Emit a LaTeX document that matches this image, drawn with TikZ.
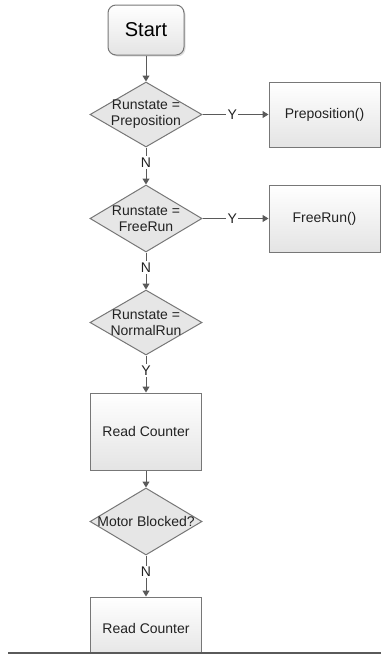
\documentclass[tikz,border=0pt]{standalone}
\usepackage{fontspec}
\setmainfont{Liberation Sans}
\usetikzlibrary{shapes.geometric,arrows.meta,shadows}
\definecolor{edgegray}{HTML}{5A5A5A}
\definecolor{bordergray}{HTML}{777777}
\definecolor{diafill}{HTML}{E6E6E6}
\definecolor{boxbot}{HTML}{E4E4E4}
\definecolor{txt}{HTML}{222222}
\tikzset{
  procbox/.style={rectangle, draw=bordergray, line width=1pt, top color=white, bottom color=boxbot,
    minimum width=111pt, inner sep=0pt, text=txt, font=\fontsize{14}{16}\selectfont},
  startbox/.style={rectangle, rounded corners=8pt, draw=bordergray, line width=1pt, top color=white, bottom color=boxbot,
    minimum width=76pt, minimum height=50pt, inner sep=0pt, text=black, font=\fontsize{20}{22}\selectfont,
    drop shadow={shadow xshift=1.5pt, shadow yshift=-1.5pt, opacity=0.25}},
  dia/.style={diamond, draw=bordergray, line width=1pt, fill=diafill, inner sep=0pt,
    minimum width=112pt},
  diatext/.style={align=center, text=txt, font=\fontsize{14}{16}\selectfont, inner sep=0pt},
  flow/.style={draw=edgegray, line width=1pt, -{Triangle[width=7pt,length=6pt]}},
  lbl/.style={fill=white, inner sep=1.5pt, text=txt, font=\fontsize{14}{16}\selectfont},
}
\begin{document}
\begin{tikzpicture}[x=1pt,y=-1pt]
\useasboundingbox (0,0) rectangle (381,656);
\node[startbox] (start) at (146,30) {Start};
\node[dia, minimum height=65pt] (d1) at (146,114.5) {};
\node[diatext] at (d1) {Runstate =\\Preposition};
\node[procbox, minimum height=65pt] (p1) at (324.5,114.5) {Preposition()};
\node[dia, minimum height=67pt] (d2) at (146,218.5) {};
\node[diatext] at (d2) {Runstate =\\FreeRun};
\node[procbox, minimum height=67pt] (p2) at (324.5,218.5) {FreeRun()};
\node[dia, minimum height=65pt] (d3) at (146,322.5) {};
\node[diatext] at (d3) {Runstate =\\NormalRun};
\node[procbox, minimum height=77pt] (rc1) at (146,431.5) {Read Counter};
\node[dia, minimum height=67pt] (d4) at (146,521.5) {};
\node[diatext] at (d4) {Motor Blocked?};
\node[procbox, minimum height=62pt] (rc2) at (146,628) {Read Counter};
\fill[white] (0,654) rectangle (381,656);
\coordinate (lineL) at (8,653);
\coordinate (lineR) at (381,653);
\draw[edgegray, line width=1.5pt] (lineL) -- (lineR);

\draw[flow] (start.south) -- (d1.north);
\draw[flow] (d1.east) -- node[lbl, pos=0.45] {Y} (p1.west);
\draw[flow] (d1.south) -- node[lbl, pos=0.4] {N} (d2.north);
\draw[flow] (d2.east) -- node[lbl, pos=0.45] {Y} (p2.west);
\draw[flow] (d2.south) -- node[lbl, pos=0.4] {N} (d3.north);
\draw[flow] (d3.south) -- node[lbl, pos=0.4] {Y} (rc1.north);
\draw[flow] (rc1.south) -- (d4.north);
\draw[flow] (d4.south) -- node[lbl, pos=0.4] {N} (rc2.north);
\end{tikzpicture}
\end{document}
